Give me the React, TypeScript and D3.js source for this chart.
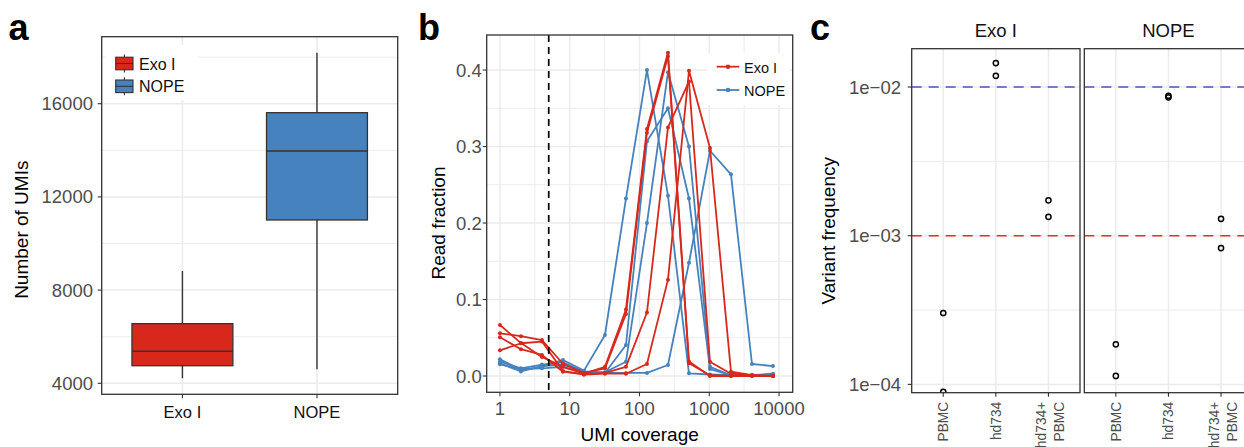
import React from 'react';
import * as d3 from 'd3';

// panel a: boxplot summaries
const boxGroups = ['Exo I', 'NOPE'];
const boxLower = [4215, 4600];
const boxQ1 = [4755, 11010];
const boxMedian = [5375, 13970];
const boxQ3 = [6560, 15615];
const boxUpper = [8820, 18190];
const umiTicks = [4000, 8000, 12000, 16000];
const umiMinor = [6000, 10000, 14000, 18000];

// panel b: read fraction per UMI coverage bin
const coverage = [1, 2, 4, 8, 16, 32, 64, 128, 256, 512, 1024, 2048, 4096, 8192];
const exoRuns = [
  [0.0667, 0.043, 0.025, 0.012, 0.003, 0.012, 0.087, 0.323, 0.4226, 0.019, 0.0, 0.0, 0.0, 0.0],
  [0.0558, 0.052, 0.047, 0.016, 0.004, 0.01, 0.081, 0.318, 0.418, 0.0166, 0.001, 0.0, 0.0, 0.0],
  [0.0506, 0.035, 0.0275, 0.0056, 0.002, 0.004, 0.012, 0.083, 0.325, 0.385, 0.0187, 0.003, 0.001, 0.0],
  [0.0336, 0.0428, 0.045, 0.0065, 0.002, 0.003, 0.003, 0.0157, 0.126, 0.399, 0.298, 0.0056, 0.001, 0.0]
];
const nopeRuns = [
  [0.0218, 0.008, 0.012, 0.021, 0.007, 0.0536, 0.232, 0.4, 0.2357, 0.0035, 0.002, 0.001, 0.001, 0.001],
  [0.0187, 0.01, 0.015, 0.018, 0.005, 0.005, 0.0187, 0.2, 0.397, 0.3, 0.012, 0.001, 0.001, 0.002],
  [0.0166, 0.006, 0.013, 0.015, 0.006, 0.004, 0.0405, 0.307, 0.35, 0.232, 0.009, 0.001, 0.001, 0.003],
  [0.0153, 0.009, 0.01, 0.012, 0.004, 0.004, 0.004, 0.004, 0.0144, 0.148, 0.2945, 0.2637, 0.0157, 0.013]
];
const fractionTicks = [0, 0.1, 0.2, 0.3, 0.4];
const fractionMinor = [0.05, 0.15, 0.25, 0.35];
const coverageTicks = [1, 10, 100, 1000, 10000];
const coverageCutoff = 5;

// panel c: variant frequencies
const facets = ['Exo I', 'NOPE'];
const samples = ['PBMC', 'hd734', 'hd734+PBMC'];
const variantSample = ['PBMC', 'PBMC', 'hd734', 'hd734', 'hd734+PBMC', 'hd734+PBMC'];
const exoFreq = [3.02e-4, 8.9e-5, 0.0145, 0.0119, 1.73e-3, 1.34e-3];
const nopeFreq = [1.86e-4, 1.14e-4, 8.74e-3, 8.53e-3, 1.3e-3, 8.26e-4];
const freqTicks = [1e-4, 1e-3, 1e-2];
const freqLabels = ['1e\u221204', '1e\u221203', '1e\u221202'];
const thresholds = [0.01, 0.001];

const RED = '#d8281c';
const BLUE = '#4682bd';
const GRID = '#ebebeb';
const DARK = '#333333';
const TICKTXT = '#4d4d4d';
const FONT = '"Liberation Sans", Arial, sans-serif';

function PanelA() {
  const y = d3.scaleLinear().domain([3528, 18876]).range([394.3, 36.7]);
  const x = d3.scalePoint().domain(boxGroups).range([101.7, 397.7]).padding(0.6);
  const bw = x.step() * 0.75;
  const [x0, x1] = x.range();
  return (
    <g>
      {umiMinor.map(v => (
        <line key={'mn' + v} x1={x0} x2={x1} y1={y(v)} y2={y(v)} stroke={GRID} strokeWidth={0.9} />
      ))}
      {umiTicks.map(v => (
        <line key={'mj' + v} x1={x0} x2={x1} y1={y(v)} y2={y(v)} stroke={GRID} strokeWidth={1.5} />
      ))}
      {boxGroups.map(g => (
        <line key={'vg' + g} x1={x(g)} x2={x(g)} y1={36.7} y2={394.3} stroke={GRID} strokeWidth={1.5} />
      ))}
      {/* legend background */}
      <rect x={106} y={45} width={91} height={55} fill="#fff" />
      {boxGroups.map((g, i) => {
        const cx = x(g)!;
        return (
          <g key={g}>
            <line x1={cx} x2={cx} y1={y(boxUpper[i])} y2={y(boxLower[i])} stroke={DARK} strokeWidth={1.4} />
            <rect x={cx - bw / 2} y={y(boxQ3[i])} width={bw} height={y(boxQ1[i]) - y(boxQ3[i])}
              fill={i === 0 ? RED : BLUE} stroke={DARK} strokeWidth={1.3} />
            <line x1={cx - bw / 2} x2={cx + bw / 2} y1={y(boxMedian[i])} y2={y(boxMedian[i])} stroke={DARK} strokeWidth={1.6} />
          </g>
        );
      })}
      <rect x={x0} y={36.7} width={x1 - x0} height={394.3 - 36.7} fill="none" stroke={DARK} strokeWidth={1.3} />
      {umiTicks.map(v => (
        <g key={'t' + v}>
          <line x1={x0 - 4} x2={x0} y1={y(v)} y2={y(v)} stroke={DARK} strokeWidth={1.1} />
          <text x={93} y={y(v) + 6.5} textAnchor="end" fontSize={18.5} fill={TICKTXT}>{v}</text>
        </g>
      ))}
      {boxGroups.map(g => (
        <g key={'xt' + g}>
          <line x1={x(g)} x2={x(g)} y1={394.3} y2={398.3} stroke={DARK} strokeWidth={1.1} />
          <text x={x(g)} y={417.5} textAnchor="middle" fontSize={16.5} fill="#111">{g}</text>
        </g>
      ))}
      <text transform="translate(28,229.7) rotate(-90)" textAnchor="middle" fontSize={19} fill="#000">Number of UMIs</text>
      {/* legend */}
      {boxGroups.map((g, i) => {
        const cy = 63.5 + i * 22.8;
        return (
          <g key={'lg' + g}>
            <line x1={124.4} x2={124.4} y1={cy - 9} y2={cy + 9} stroke={DARK} strokeWidth={1.1} />
            <rect x={115.7} y={cy - 6.3} width={17.3} height={12.6} fill={i === 0 ? RED : BLUE} stroke={DARK} strokeWidth={1.1} />
            <line x1={115.7} x2={133} y1={cy} y2={cy} stroke={DARK} strokeWidth={1.1} />
            <text x={139} y={cy + 6} fontSize={16} fill="#111">{g}</text>
          </g>
        );
      })}
      <text x={8.5} y={40} fontSize={36} fontWeight="bold" fill="#000">a</text>
    </g>
  );
}

function PanelB() {
  const x = d3.scaleLog().domain([10 ** -0.19, 10 ** 4.196]).range([486.7, 792.7]);
  const y = d3.scaleLinear().domain([-0.0213, 0.4458]).range([392.3, 35]);
  const line = d3.line<number>().x((d, i) => x(coverage[i])).y(d => y(d));
  const xMinor = [10 ** 0.5, 10 ** 1.5, 10 ** 2.5, 10 ** 3.5];
  const [l, r] = x.range();
  const [b, t] = y.range();
  return (
    <g>
      {fractionMinor.map(v => (
        <line key={'ym' + v} x1={l} x2={r} y1={y(v)} y2={y(v)} stroke={GRID} strokeWidth={0.9} />
      ))}
      {xMinor.map(v => (
        <line key={'xm' + v} x1={x(v)} x2={x(v)} y1={t} y2={b} stroke={GRID} strokeWidth={0.9} />
      ))}
      {fractionTicks.map(v => (
        <line key={'yj' + v} x1={l} x2={r} y1={y(v)} y2={y(v)} stroke={GRID} strokeWidth={1.5} />
      ))}
      {coverageTicks.map(v => (
        <line key={'xj' + v} x1={x(v)} x2={x(v)} y1={t} y2={b} stroke={GRID} strokeWidth={1.5} />
      ))}
      {[...nopeRuns.map(d => ({ d, c: BLUE })), ...exoRuns.map(d => ({ d, c: RED }))].map((s, k) => (
        <g key={'run' + k}>
          <path d={line(s.d) || ''} fill="none" stroke={s.c} strokeWidth={1.8} strokeLinejoin="round" />
          {s.d.map((v, i) => (
            <circle key={i} cx={x(coverage[i])} cy={y(v)} r={2} fill={s.c} />
          ))}
        </g>
      ))}
      <line x1={x(coverageCutoff)} x2={x(coverageCutoff)} y1={t} y2={b} stroke="#000" strokeWidth={1.7} strokeDasharray="7,5" />
      {/* legend */}
      <rect x={707} y={53} width={83} height={52} fill="#fff" />
      {facets.map((g, i) => {
        const cy = 66.7 + i * 23.3;
        const c = i === 0 ? RED : BLUE;
        return (
          <g key={'lg' + g}>
            <line x1={716.7} x2={739.3} y1={cy} y2={cy} stroke={c} strokeWidth={1.8} />
            <circle cx={728} cy={cy} r={2.3} fill={c} />
            <text x={744} y={cy + 6} fontSize={14.5} fill="#111">{g}</text>
          </g>
        );
      })}
      <rect x={l} y={t} width={r - l} height={b - t} fill="none" stroke={DARK} strokeWidth={1.3} />
      {fractionTicks.map(v => (
        <g key={'yt' + v}>
          <line x1={l - 4} x2={l} y1={y(v)} y2={y(v)} stroke={DARK} strokeWidth={1.1} />
          <text x={481.7} y={y(v) + 6.5} textAnchor="end" fontSize={18.5} fill={TICKTXT}>{v.toFixed(1)}</text>
        </g>
      ))}
      {coverageTicks.map(v => (
        <g key={'xt' + v}>
          <line x1={x(v)} x2={x(v)} y1={b} y2={b + 4} stroke={DARK} strokeWidth={1.1} />
          <text x={x(v)} y={415} textAnchor="middle" fontSize={18.5} fill={TICKTXT}>{v}</text>
        </g>
      ))}
      <text x={(l + r) / 2} y={441} textAnchor="middle" fontSize={19} fill="#000">UMI coverage</text>
      <text transform="translate(445,223) rotate(-90)" textAnchor="middle" fontSize={19} fill="#000">Read fraction</text>
      <text x={418} y={40} fontSize={36} fontWeight="bold" fill="#000">b</text>
    </g>
  );
}

function PanelC() {
  const y = d3.scaleLog().domain([10 ** -4.056, 10 ** -1.742]).range([392.7, 48.7]);
  const panels = [[911.7, 1080], [1084.3, 1252.6]];
  const yMinor = [10 ** -3.5, 10 ** -2.5];
  const [b, t] = y.range();
  return (
    <g>
      <defs>
        {panels.map((p, i) => (
          <clipPath id={'facet' + i} key={i}>
            <rect x={p[0]} y={t} width={p[1] - p[0]} height={b - t} />
          </clipPath>
        ))}
      </defs>
      {facets.map((f, fi) => {
        const [l, r] = panels[fi];
        const x = d3.scalePoint().domain(samples).range([l, r]).padding(0.6);
        const freqs = fi === 0 ? exoFreq : nopeFreq;
        return (
          <g key={f}>
            <g clipPath={`url(#facet${fi})`}>
              {yMinor.map(v => (
                <line key={'m' + v} x1={l} x2={r} y1={y(v)} y2={y(v)} stroke={GRID} strokeWidth={0.9} />
              ))}
              {freqTicks.map(v => (
                <line key={'j' + v} x1={l} x2={r} y1={y(v)} y2={y(v)} stroke={GRID} strokeWidth={1.5} />
              ))}
              {samples.map(s => (
                <line key={'v' + s} x1={x(s)} x2={x(s)} y1={t} y2={b} stroke={GRID} strokeWidth={1.5} />
              ))}
              {thresholds.map((v, i) => (
                <line key={'h' + v} x1={l} x2={r} y1={y(v)} y2={y(v)}
                  stroke={i === 0 ? '#4a55b8' : '#ef2b22'} strokeWidth={1.6} strokeDasharray="10,7" />
              ))}
              {freqs.map((v, i) => (
                <circle key={'p' + i} cx={x(variantSample[i])} cy={y(v)} r={2.6} fill="none" stroke="#000" strokeWidth={1.5} />
              ))}
            </g>
            <rect x={l} y={t} width={r - l} height={b - t} fill="none" stroke={DARK} strokeWidth={1.3} />
            <text x={(l + r) / 2} y={36.7} textAnchor="middle" fontSize={18.5} fill="#111">{f}</text>
            {samples.map(s => {
              const cx = x(s)!;
              const parts = s.includes('+') ? [s.slice(0, s.indexOf('+') + 1), s.slice(s.indexOf('+') + 1)] : [s];
              return (
                <g key={'xt' + s}>
                  <line x1={cx} x2={cx} y1={b} y2={b + 4} stroke={DARK} strokeWidth={1.1} />
                  {parts.map((p, k) => {
                    const bx = parts.length === 1 ? cx + 5 : cx - 2.5 + k * 18;
                    return (
                      <text key={k} transform={`translate(${bx},401.7) rotate(-90)`} textAnchor="end" fontSize={13.8} fill={TICKTXT}>{p}</text>
                    );
                  })}
                </g>
              );
            })}
          </g>
        );
      })}
      {freqTicks.map((v, i) => (
        <g key={'yt' + v}>
          <line x1={panels[0][0] - 4} x2={panels[0][0]} y1={y(v)} y2={y(v)} stroke={DARK} strokeWidth={1.1} />
          <text x={901} y={y(v) + 6.5} textAnchor="end" fontSize={18.5} fill={TICKTXT}>{freqLabels[i]}</text>
        </g>
      ))}
      <text transform="translate(835,230.8) rotate(-90)" textAnchor="middle" fontSize={19} fill="#000">Variant frequency</text>
      <text x={810} y={40} fontSize={36} fontWeight="bold" fill="#000">c</text>
    </g>
  );
}

export default function App() {
  return (
    <svg width={1244} height={447} style={{ position: 'absolute', left: 0, top: 0, background: '#fff' }} fontFamily={FONT}>
      <rect width={1244} height={447} fill="#fff" />
      <PanelA />
      <PanelB />
      <PanelC />
    </svg>
  );
}
